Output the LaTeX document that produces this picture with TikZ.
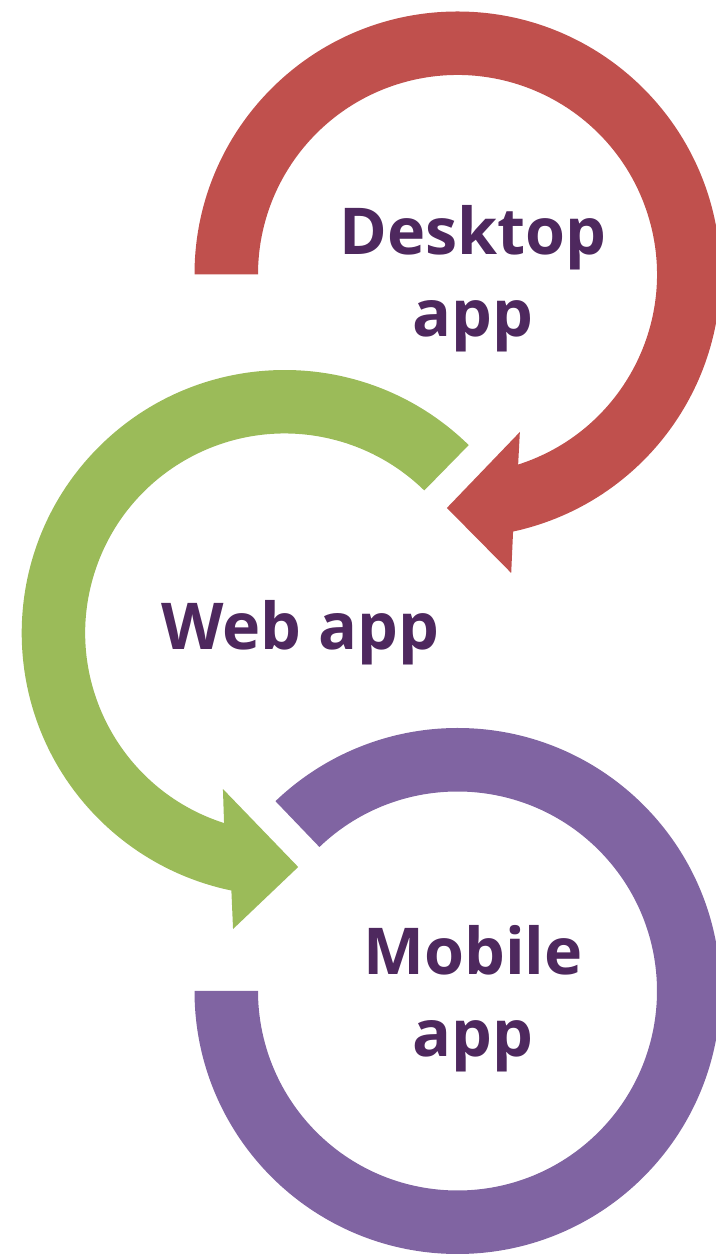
\documentclass[tikz,border=0pt]{standalone}
\usepackage{fontspec}
\setmainfont{Open Sans}
\definecolor{cred}{HTML}{C0504D}
\definecolor{cgreen}{HTML}{9BBB59}
\definecolor{cpurple}{HTML}{8064A2}
\definecolor{ctext}{HTML}{4E285E}
\begin{document}
\begin{tikzpicture}[x=0.5pt,y=0.5pt,
  lbl/.style={font=\fontsize{32.3}{41}\selectfont\bfseries, text=ctext, align=center, inner sep=0pt, anchor=base}]
\useasboundingbox (0,0) rectangle (716,1254);
\clip (0,0) rectangle (716,1254);
% Desktop app (red)
\begin{scope}[shift={(457.5,979.5)}]
\fill[cred] (180:263) arc[start angle=180, end angle=-77.8, radius=263]
  -- (-79.8:303.3) -- (-92.6:233.7) -- (-68.4:169.4) -- (-72.3:199.5)
  arc[start angle=-72.3, end angle=180, radius=199.5] -- cycle;
\end{scope}
% Web app (green)
\begin{scope}[shift={(284.7,621)}]
\fill[cgreen] (45.6:263) arc[start angle=45.6, end angle=258.3, radius=263]
  -- (260.1:300.5) -- (273.3:234.4) -- (248.4:167.8) -- (252.3:199.5)
  arc[start angle=252.3, end angle=45.6, radius=199.5] -- cycle;
\end{scope}
% Mobile app (purple)
\begin{scope}[shift={(457.5,263)}]
\fill[cpurple] (180:263) arc[start angle=180, end angle=493.8, radius=263]
  -- (133.8:199.5) arc[start angle=493.8, end angle=180, radius=199.5] -- cycle;
\end{scope}
\node[lbl] (desk) at (473,917) {Desktop\\app};
\node[lbl] (web) at (300,604) {Web app};
\node[lbl] (mob) at (473,197) {Mobile\\app};
\end{tikzpicture}
\end{document}
